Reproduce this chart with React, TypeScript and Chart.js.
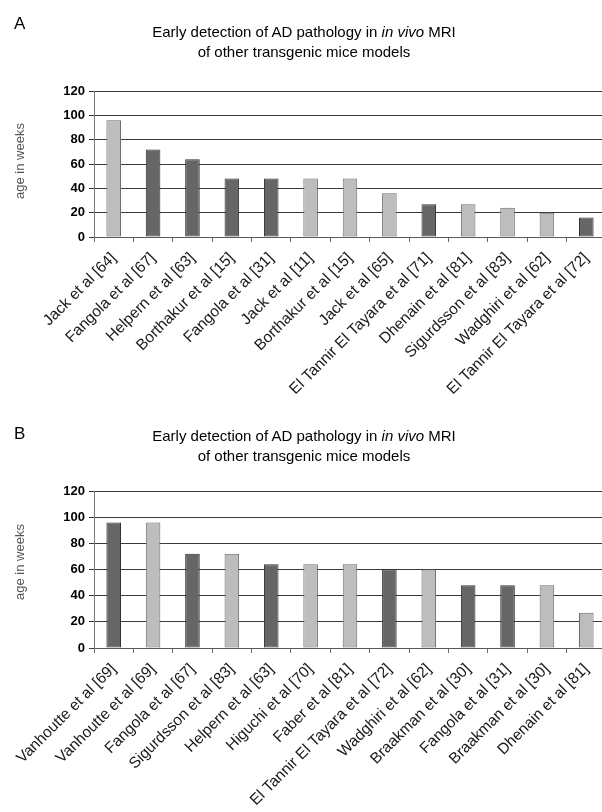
import React, { useEffect, useRef } from "react";
import { Chart, registerables } from "chart.js";

Chart.register(...registerables);

// Panel A
const categoriesA = [
  "Jack et al [64]",
  "Fangola et al [67]",
  "Helpern et al [63]",
  "Borthakur et al [15]",
  "Fangola et al [31]",
  "Jack et al [11]",
  "Borthakur et al [15]",
  "Jack et al [65]",
  "El Tannir El Tayara et al [71]",
  "Dhenain et al [81]",
  "Sigurdsson et al [83]",
  "Wadghiri et al [62]",
  "El Tannir El Tayara et al [72]",
];
const weeksA = [96, 72, 64, 48, 48, 48, 48, 36, 27, 27, 24, 20, 16];
const shadesA = ["light", "dark", "dark", "dark", "dark", "light", "light", "light", "dark", "light", "light", "light", "dark"];

// Panel B
const categoriesB = [
  "Vanhoutte et al [69]",
  "Vanhoutte et al [69]",
  "Fangola et al [67]",
  "Sigurdsson et al [83]",
  "Helpern et al [63]",
  "Higuchi et al [70]",
  "Faber et al [81]",
  "El Tannir El Tayara et al [72]",
  "Wadghiri et al [62]",
  "Braakman et al [30]",
  "Fangola et al [31]",
  "Braakman et al [30]",
  "Dhenain et al [81]",
];
const weeksB = [96, 96, 72, 72, 64, 64, 64, 60, 60, 48, 48, 48, 27];
const shadesB = ["dark", "light", "dark", "light", "dark", "light", "light", "dark", "light", "dark", "dark", "light", "light"];

const yTickValues = [0, 20, 40, 60, 80, 100, 120];
const yAxisTitle = "age in weeks";

const FONT = '"Liberation Sans", Arial, Helvetica, sans-serif';

const FILL: Record<string, string> = { dark: "#666666", light: "#bdbdbd" };
const EDGE: Record<string, string> = { dark: "#2e2e2e", light: "#6a6a6a" };

function BarPanel(props: {
  labels: string[];
  values: number[];
  shades: string[];
  top: number;
  height: number;
  plotTop: number;
  xAxisHeight: number;
}) {
  const ref = useRef<HTMLCanvasElement | null>(null);

  useEffect(() => {
    if (!ref.current) return;
    const chart = new Chart(ref.current, {
      type: "bar",
      data: {
        labels: props.labels,
        datasets: [
          {
            data: props.values,
            backgroundColor: props.shades.map((s) => FILL[s]),
            borderColor: props.shades.map((s) => EDGE[s]),
            borderWidth: 1,
            borderSkipped: false,
            barPercentage: 0.37,
            categoryPercentage: 1,
          },
        ],
      },
      options: {
        responsive: false,
        animation: false,
        devicePixelRatio: 1,
        layout: { padding: { top: props.plotTop, right: 14, left: 0, bottom: 0 } },
        plugins: {
          legend: { display: false },
          title: { display: false },
          tooltip: { enabled: false },
        },
        scales: {
          x: {
            grid: {
              offset: true,
              drawOnChartArea: false,
              drawTicks: true,
              tickLength: 5,
              color: "#6a6a6a",
            },
            border: { display: true, color: "#5a5a5a", width: 1 },
            ticks: {
              autoSkip: false,
              minRotation: 45,
              maxRotation: 45,
              padding: 7,
              color: "#1a1a1a",
              font: { family: FONT, size: 15.5 },
            },
            afterFit: (scale: any) => {
              scale.height = props.xAxisHeight;
            },
          },
          y: {
            min: 0,
            max: 120,
            afterBuildTicks: (scale: any) => {
              scale.ticks = yTickValues.map((v) => ({ value: v }));
            },
            grid: {
              color: "#3a3a3a",
              lineWidth: 1,
              drawTicks: true,
              tickLength: 5,
            },
            border: { display: true, color: "#7a7a7a", width: 1 },
            ticks: {
              padding: 4,
              color: "#000000",
              font: { family: FONT, size: 13, weight: "bold" },
            },
            afterFit: (scale: any) => {
              scale.width = 94;
            },
          },
        },
      },
    });
    return () => chart.destroy();
  }, []);

  return (
    <canvas
      ref={ref}
      width={620}
      height={props.height}
      style={{ position: "absolute", left: 0, top: props.top, width: 620, height: props.height }}
    />
  );
}

function Heading(props: { letter: string; top: number; letterTop: number; axisMid: number }) {
  return (
    <>
      <div
        style={{
          position: "absolute",
          left: 14,
          top: props.letterTop,
          fontFamily: FONT,
          fontSize: 17,
          lineHeight: "20px",
          color: "#000",
        }}
      >
        {props.letter}
      </div>
      <div
        style={{
          position: "absolute",
          left: 0,
          width: 608,
          top: props.top,
          textAlign: "center",
          fontFamily: FONT,
          fontSize: 15,
          lineHeight: "20px",
          color: "#000",
        }}
      >
        Early detection of AD pathology in <i>in vivo</i> MRI
        <br />
        of other transgenic mice models
      </div>
      <div
        style={{
          position: "absolute",
          left: 20 - 60,
          top: props.axisMid - 10,
          width: 120,
          height: 20,
          lineHeight: "20px",
          textAlign: "center",
          transform: "rotate(-90deg)",
          fontFamily: FONT,
          fontSize: 13,
          color: "#555",
        }}
      >
        {yAxisTitle}
      </div>
    </>
  );
}

export default function App() {
  return (
    <div
      style={{
        position: "fixed",
        left: 0,
        top: 0,
        width: 602,
        height: 812,
        overflow: "hidden",
        background: "#ffffff",
      }}
    >
      <BarPanel
        labels={categoriesA}
        values={weeksA}
        shades={shadesA}
        top={0}
        height={400}
        plotTop={91}
        xAxisHeight={163}
      />
      <BarPanel
        labels={categoriesB}
        values={weeksB}
        shades={shadesB}
        top={400}
        height={412}
        plotTop={91}
        xAxisHeight={164}
      />
      <Heading letter="A" letterTop={14} top={22} axisMid={161} />
      <Heading letter="B" letterTop={424} top={426} axisMid={562} />
    </div>
  );
}
